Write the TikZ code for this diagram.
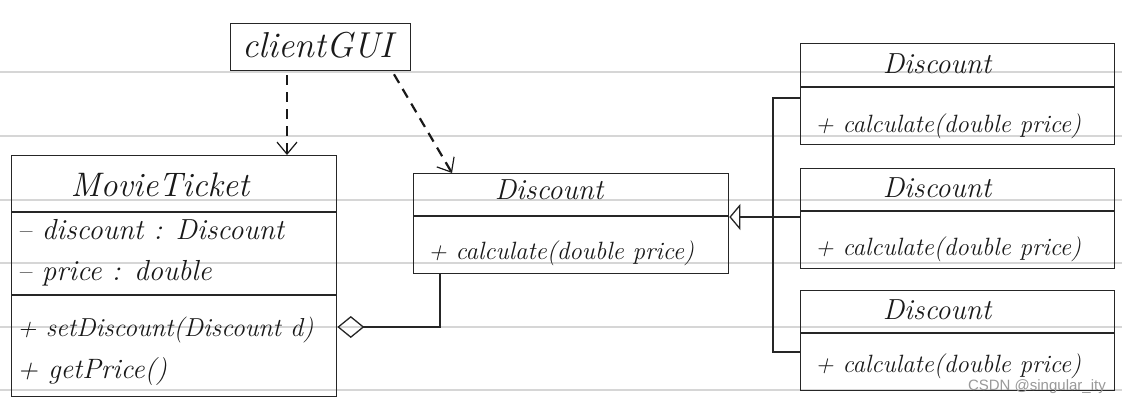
\documentclass[tikz,border=0pt]{standalone}
\usepackage{fontspec}
\newfontfamily\wmfont{Liberation Sans}
\usetikzlibrary{arrows.meta}
\begin{document}
\begin{tikzpicture}[x=1pt,y=-1pt,
  ink/.style={draw=black!85, line width=1.3pt},
  box/.style={ink, rectangle, inner sep=0pt, anchor=north west},
  ruled/.style={draw=black!16, line width=1.6pt},
  dep/.style={draw=black!90, line width=2.2pt, dash pattern=on 10pt off 7pt,
    -{Straight Barb[length=12pt,width=20pt,line width=1.2pt]}},
  hand/.style={inner sep=0pt, text=black!90, font=\itshape\fontsize{#1}{#1}\selectfont},
  title/.style={hand=29},
  member/.style={hand=#1, anchor=west},
  member/.default=25
]
\useasboundingbox (0,0) rectangle (1122,400);
% lined paper
\foreach \yy in {72,136,200,263,327,390} \draw[ruled] (0,\yy) -- (1122,\yy);

% clientGUI
\node[box, minimum width=180pt, minimum height=47pt] (gui) at (230,23) {};
\node[hand=36] (guiname) at (318,45) {clientGUI};

% MovieTicket
\node[box, minimum width=325pt, minimum height=241pt] (mt) at (11,155) {};
\draw[ink] ([yshift=-57pt]mt.north west) -- ([yshift=-57pt]mt.north east);
\draw[ink] ([yshift=-140pt]mt.north west) -- ([yshift=-140pt]mt.north east);
\node[hand=34] (mtname) at (160,185) {MovieTicket};
\node[member=29] (mta1) at (17,230) {-- discount : Discount};
\node[member=29] (mta2) at (17,273) {-- price : double};
\node[member=26] (mtm1) at (17,330) {+ setDiscount(Discount d)};
\node[member=28] (mtm2) at (17,372) {+ getPrice()};

% Discount (middle)
\node[box, minimum width=315pt, minimum height=100pt] (disc) at (413,173) {};
\draw[ink] ([yshift=-43pt]disc.north west) -- ([yshift=-43pt]disc.north east);
\node[title] (discname) at (549,190) {Discount};
\node[member] (discm) at (428,253) {+ calculate(double price)};

% Discount boxes (right)
\node[box, minimum width=314pt, minimum height=101pt] (d1) at (800,43) {};
\draw[ink] ([yshift=-44pt]d1.north west) -- ([yshift=-44pt]d1.north east);
\node[title] (d1name) at (937,64) {Discount};
\node[member] (d1m) at (815,126) {+ calculate(double price)};

\node[box, minimum width=314pt, minimum height=100pt] (d2) at (800,168) {};
\draw[ink] ([yshift=-43pt]d2.north west) -- ([yshift=-43pt]d2.north east);
\node[title] (d2name) at (937,188) {Discount};
\node[member] (d2m) at (815,249) {+ calculate(double price)};

\node[box, minimum width=314pt, minimum height=100pt] (d3) at (800,290) {};
\draw[ink] ([yshift=-43pt]d3.north west) -- ([yshift=-43pt]d3.north east);
\node[title] (d3name) at (937,310) {Discount};
\node[member] (d3m) at (815,366) {+ calculate(double price)};

% dependencies
\draw[dep] ([yshift=-4pt]gui.south -| 287,0) -- (mt.north -| 287,0);
\draw[dep] ([yshift=-3pt]gui.south -| 394,0) -- (disc.north -| 452,0);

% aggregation
\draw[ink, {Diamond[open,length=27pt,width=22pt,line width=1.3pt]}-]
  (mt.east |- 0,327) -| (disc.south -| 440,0);

% generalization
\draw[ink, -{Triangle[open,length=11pt,width=26pt,line width=1.3pt]}]
  (d2.west |- 0,217) -- (disc.east |- 0,217);
\draw[ink] (d1.west |- 0,98) -| (773,352) -- (d3.west |- 0,352);

% watermark
\node[font=\wmfont\fontsize{15}{15}\selectfont, text=black!40, anchor=east, inner sep=0pt]
  (wm) at (1106,387) {CSDN @singular\_ity};
\end{tikzpicture}
\end{document}
